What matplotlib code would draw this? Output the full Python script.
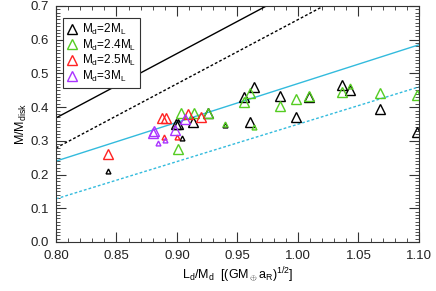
import matplotlib
matplotlib.use("Agg")
import matplotlib.pyplot as plt
from matplotlib.ticker import MultipleLocator

plt.rcParams['font.family'] = ['Liberation Sans', 'DejaVu Sans']
plt.rcParams['mathtext.fontset'] = 'custom'
plt.rcParams['mathtext.rm'] = 'Liberation Sans'
plt.rcParams['mathtext.it'] = 'Liberation Sans'

# reference lines (x at both ends, y at both ends)
line_x = [0.80, 1.10]
black_solid_y = [0.368, 0.941]
black_dot_y = [0.279, 0.850]
cyan_solid_y = [0.240, 0.585]
cyan_dot_y = [0.128, 0.460]

# M_d = 2 M_L (black)
k_big_x = [0.899, 0.901, 0.913, 0.926, 0.955, 0.960, 0.964, 0.985, 0.998, 1.009, 1.036, 1.043, 1.068, 1.098]
k_big_y = [0.350, 0.350, 0.357, 0.384, 0.429, 0.356, 0.459, 0.433, 0.372, 0.431, 0.465, 0.451, 0.394, 0.326]
k_small_x = [0.843, 0.904, 0.940]
k_small_y = [0.212, 0.309, 0.347]

# M_d = 2.4 M_L (green)
g_big_x = [0.901, 0.903, 0.914, 0.926, 0.955, 0.960, 0.985, 0.998, 1.009, 1.036, 1.068, 1.098]
g_big_y = [0.275, 0.382, 0.382, 0.382, 0.415, 0.441, 0.404, 0.423, 0.434, 0.445, 0.441, 0.435]
g_small_x = [0.940, 0.964, 1.043]
g_small_y = [0.350, 0.342, 0.463]

# M_d = 2.5 M_L (red)
r_big_x = [0.843, 0.888, 0.891, 0.909, 0.920]
r_big_y = [0.260, 0.368, 0.368, 0.380, 0.370]
r_small_x = [0.889, 0.900]
r_small_y = [0.312, 0.312]

# M_d = 3 M_L (purple)
p_big_x = [0.880, 0.881, 0.898, 0.907]
p_big_y = [0.324, 0.329, 0.332, 0.364]
p_small_x = [0.884, 0.890]
p_small_y = [0.293, 0.303]

labels = [r'M$_\mathregular{d}$=2M$_\mathregular{L}$',
          r'M$_\mathregular{d}$=2.4M$_\mathregular{L}$',
          r'M$_\mathregular{d}$=2.5M$_\mathregular{L}$',
          r'M$_\mathregular{d}$=3M$_\mathregular{L}$']
colors = ['black', '#55cc22', '#ff2222', '#aa33ff']

fig = plt.figure(figsize=(4.36, 2.91), dpi=100)
ax = fig.add_axes([56 / 436, 49 / 291, 363 / 436, 236 / 291])

ax.plot(line_x, black_solid_y, color='black', lw=1.0)
ax.plot(line_x, black_dot_y, color='black', lw=1.0, ls=(0, (2, 1.5)))
ax.plot(line_x, cyan_solid_y, color='#33bbdd', lw=1.0)
ax.plot(line_x, cyan_dot_y, color='#33bbdd', lw=1.0, ls=(0, (2, 1.5)))

series = [(k_big_x, k_big_y, k_small_x, k_small_y),
          (g_big_x, g_big_y, g_small_x, g_small_y),
          (r_big_x, r_big_y, r_small_x, r_small_y),
          (p_big_x, p_big_y, p_small_x, p_small_y)]
for (bx, by, sx, sy), c, lab in zip(series, colors, labels):
    ax.plot(bx, by, ls='none', marker='^', ms=7, mfc='none', mec=c, mew=1.0, label=lab)
    ax.plot(sx, sy, ls='none', marker='^', ms=3.5, mfc='none', mec=c, mew=1.0)

ax.set_xlim(0.80, 1.10)
ax.set_ylim(0.0, 0.7)
ax.xaxis.set_major_locator(MultipleLocator(0.05))
ax.xaxis.set_minor_locator(MultipleLocator(0.01))
ax.yaxis.set_major_locator(MultipleLocator(0.1))
ax.yaxis.set_minor_locator(MultipleLocator(0.01))
ax.xaxis.set_major_formatter(plt.FormatStrFormatter('%.2f'))
ax.yaxis.set_major_formatter(plt.FormatStrFormatter('%.1f'))
ax.tick_params(which='both', direction='in', top=True, right=True, labelsize=9.5,
               color='#333333', labelcolor='#222222')
ax.tick_params(which='major', length=7, pad=6)
ax.tick_params(axis='y', which='major', pad=5)
ax.tick_params(which='minor', length=3)
for s in ax.spines.values():
    s.set_linewidth(0.8)
    s.set_color('#333333')

ax.set_xlabel(r'L$_\mathregular{d}$/M$_\mathregular{d}$  [(GM$_\oplus$a$_\mathregular{R}$)$^\mathregular{1/2}$]',
              fontsize=9, labelpad=2)
ax.set_ylabel(r'M/M$_\mathregular{disk}$', fontsize=9, labelpad=1)

leg = ax.legend(loc='upper left', bbox_to_anchor=(0.02, 0.95), fontsize=8.5, handlelength=0.8,
                handletextpad=0.4, labelspacing=0.05, borderpad=0.35, borderaxespad=0,
                fancybox=False, framealpha=1, edgecolor='#333333')
leg.get_frame().set_linewidth(0.8)

fig.savefig('out.png', dpi=100)
